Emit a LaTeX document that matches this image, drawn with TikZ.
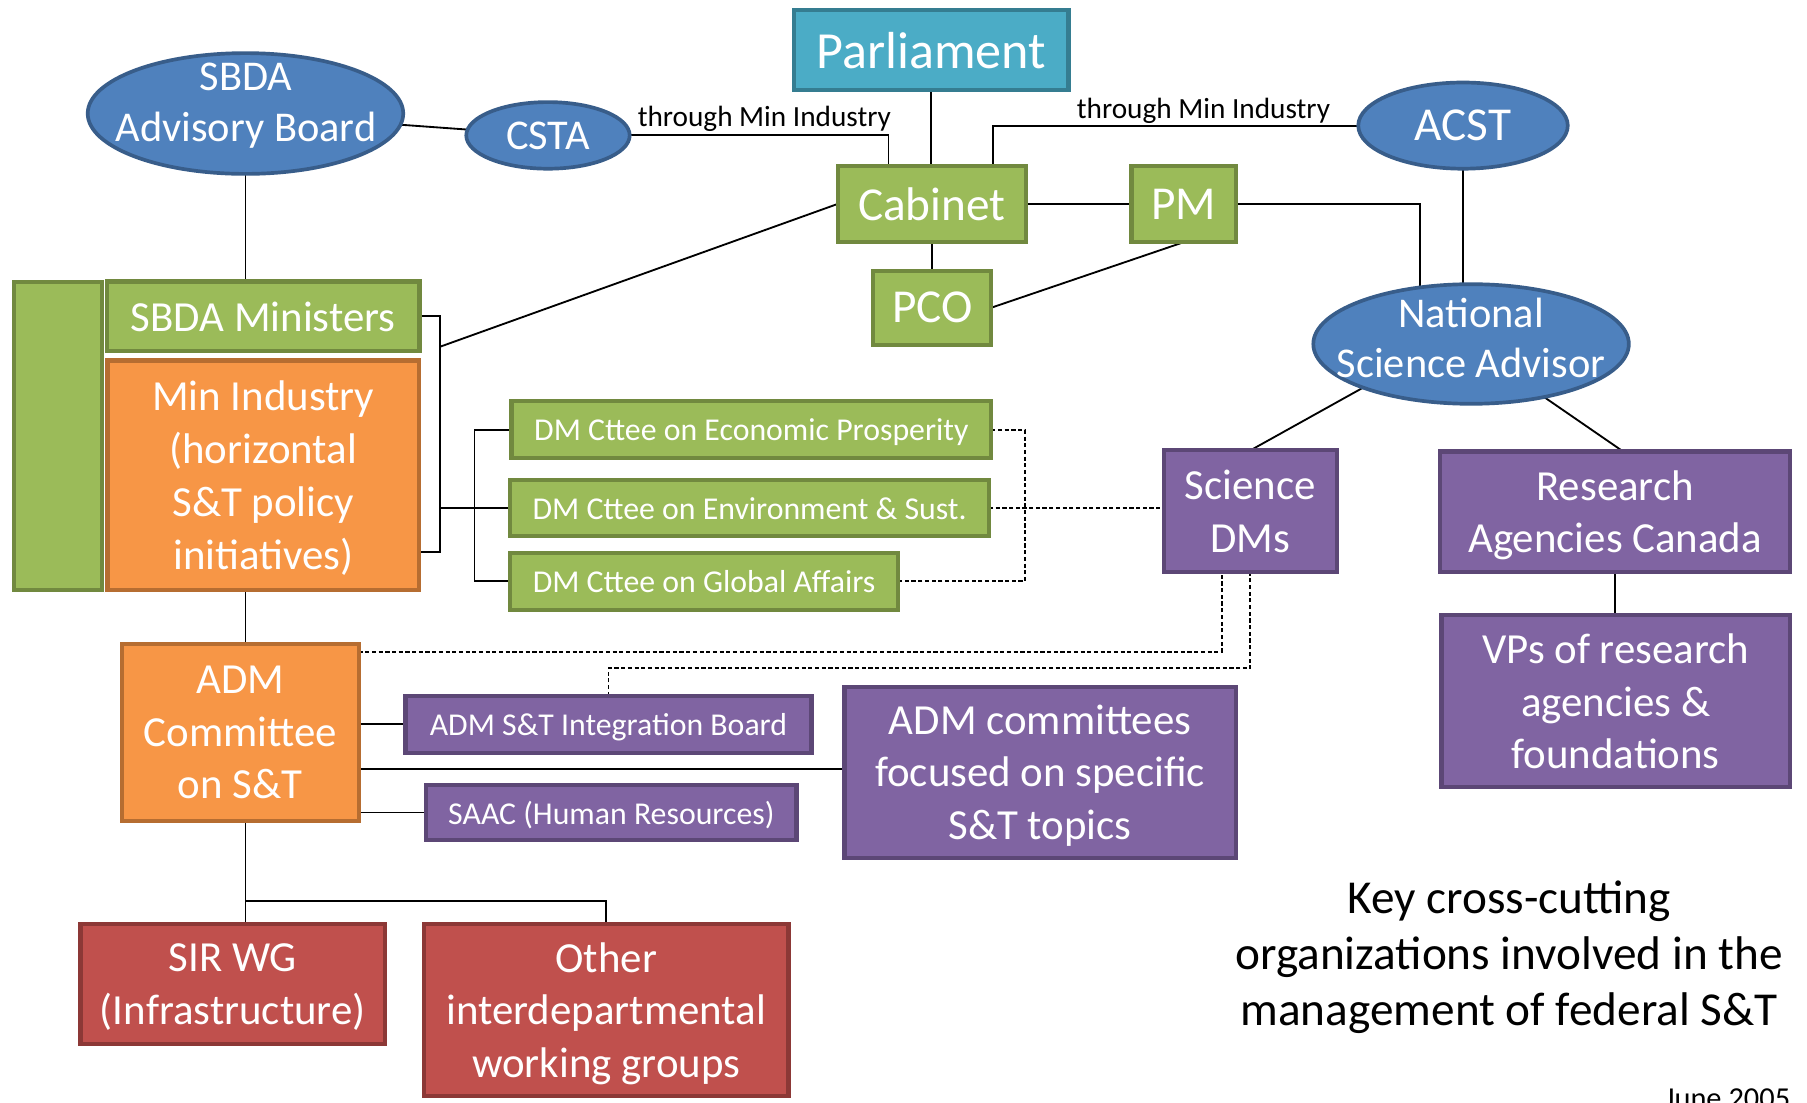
\documentclass[tikz,border=0pt]{standalone}
\usepackage{fontspec}
\setmainfont{Carlito}
\usetikzlibrary{shapes.geometric,calc}
\definecolor{grn}{HTML}{9BBB59}
\definecolor{grnd}{HTML}{71893F}
\definecolor{org}{HTML}{F79646}
\definecolor{orgd}{HTML}{B66D31}
\definecolor{pur}{HTML}{8064A2}
\definecolor{purd}{HTML}{5C4776}
\definecolor{rd}{HTML}{C0504D}
\definecolor{rdd}{HTML}{8C3836}
\definecolor{blu}{HTML}{4F81BD}
\definecolor{blud}{HTML}{385D8A}
\definecolor{tea}{HTML}{4BACC6}
\definecolor{tead}{HTML}{357D91}
\pgfdeclarelayer{bg}
\pgfdeclarelayer{paper}
\pgfsetlayers{paper,bg,main}
\tikzset{
  shp/.style={rectangle, inner sep=0pt, outer sep=0pt, line width=1.8pt, text=white, align=center},
  sz/.style 2 args={minimum width={#1*0.5pt-1.8pt}, minimum height={#2*0.5pt-1.8pt}},
  ez/.style 2 args={minimum width={#1*0.5pt-1.6pt}, minimum height={#2*0.5pt-1.6pt}},
  tbox/.style={shp, draw=tead, fill=tea},
  gbox/.style={shp, draw=grnd, fill=grn},
  obox/.style={shp, draw=orgd, fill=org},
  pbox/.style={shp, draw=purd, fill=pur},
  rbox/.style={shp, draw=rdd, fill=rd},
  ell/.style={ellipse, inner sep=0pt, outer sep=0pt, line width=1.6pt, draw=blud, fill=blu, text=white, align=center, fEl},
  etxt/.style={inner sep=0pt, text=white, align=center, fEl},
  fParl/.style={font=\fontsize{22.6}{27}\selectfont},
  fMid/.style={font=\fontsize{20.5}{24.5}\selectfont},
  fBig/.style={font=\fontsize{18.6}{22.7}\selectfont, text depth=0pt},
  fEl/.style={font=\fontsize{18.4}{22}\selectfont},
  fSm/.style={font=\fontsize{13.8}{16.5}\selectfont, text depth=0pt},
  lbl/.style={inner sep=0pt, font=\fontsize{12.7}{15}\selectfont},
  conn/.style={line width=0.8pt, black},
  dconn/.style={line width=0.85pt, black, dash pattern=on 1.8pt off 1.1pt},
}
\begin{document}
\begin{tikzpicture}[x=0.5pt, y=-0.5pt]
\useasboundingbox (0,0) rectangle (1568,957);
\begin{pgfonlayer}{paper}
\fill[white] (0,0) rectangle (1568,957);
\end{pgfonlayer}

% nodes
\node[tbox, sz={242}{73}, fParl] (parl) at (808,43.5) {Parliament};
\node[ell, ez={277}{108}] (sbda) at (213,98.5) {};
\node[etxt, anchor=base] (sbdaT) at (213.5,122.5) {SBDA\\Advisory Board};
\node[ell, ez={145}{61}] (csta) at (475.5,117.5) {CSTA};
\node[ell, ez={185}{78}, fMid] (acst) at (1269.5,109) {ACST};
\node[gbox, sz={167}{70}, fMid] (cab) at (808.5,177) {Cabinet};
\node[gbox, sz={94}{70}, fMid] (pm) at (1027,177) {PM};
\node[gbox, sz={106}{68}, fMid] (pco) at (809,267) {PCO};
\node[ell, ez={277}{107}] (nsa) at (1276.5,298.5) {};
\node[etxt, anchor=base] (nsaT) at (1276.5,328) {National\\Science Advisor};
\node[gbox, sz={80}{271}] (bar) at (50,378.5) {};
\node[gbox, sz={275}{64}, fBig] (sbdam) at (228.3,274.5) {SBDA Ministers};
\node[obox, sz={274}{203}, fBig, font=\fontsize{18.6}{23}\selectfont] (mini) at (228.5,412.5) {Min Industry\\(horizontal\\S\&T policy\\initiatives)};
\node[gbox, sz={420}{53}, fSm] (econ) at (652,373) {DM Cttee on Economic Prosperity};
\node[gbox, sz={419}{52}, fSm] (env) at (650.5,441) {DM Cttee on Environment \& Sust.};
\node[gbox, sz={340}{53}, fSm] (glob) at (611,504.5) {DM Cttee on Global Affairs};
\node[pbox, sz={154}{109}, fBig] (sdm) at (1085,443.5) {Science\\DMs};
\node[pbox, sz={307}{108}, fBig] (rac) at (1401.5,444) {Research\\Agencies Canada};
\node[pbox, sz={306}{153}, fBig] (vps) at (1402,608.5) {VPs of research\\agencies \&\\foundations};
\node[obox, sz={209}{157}, fBig] (adm) at (208.5,635.5) {ADM\\Committee\\on S\&T};
\node[pbox, sz={356}{53}, fSm] (asib) at (528,628.5) {ADM S\&T Integration Board};
\node[pbox, sz={343}{152}, fBig] (foc) at (902.5,670) {ADM committees\\focused on specific\\S\&T topics};
\node[pbox, sz={325}{52}, fSm] (saac) at (530.5,705) {SAAC (Human Resources)};
\node[rbox, sz={268}{108}, fBig] (sir) at (202,854) {SIR WG\\(Infrastructure)};
\node[rbox, sz={320}{153}, fBig] (oth) at (526,876.5) {Other\\interdepartmental\\working groups};

\node[lbl, anchor=base west] (thr1) at (553,110) {through Min Industry};
\node[lbl, anchor=base west] (thr2) at (934,102.5) {through Min Industry};
\node[anchor=base, inner sep=0pt, align=center, font=\fontsize{20.5}{24.3}\selectfont] (ttl) at (1309.5,890) {Key cross-cutting\\organizations involved in the\\management of federal S\&T};
\node[anchor=base, inner sep=0pt, font=\fontsize{13.2}{15}\selectfont] (date) at (1499,962) {June 2005};

% helper coordinates
\coordinate (bkx) at (381.5,301);
\coordinate (bky) at (381.5,441);
\coordinate (admj) at (213,782);
\coordinate (fy) at (0,667);
\coordinate (d1) at (0,565.5);
\coordinate (d2) at (0,580);

\begin{pgfonlayer}{bg}
\draw[conn] (sbda) -- (csta);
\draw[conn] (csta.east) -| ([xshift=-18.75pt]cab.north);
\draw[conn] (acst.west) -| ([xshift=26.75pt]cab.north);
\draw[conn] (parl.south) -- (parl.south |- cab.north);
\draw[conn] (cab.east) -- (pm.west);
\draw[conn] (cab.south) -- (cab.south |- pco.north);
\draw[conn] (pco.east) -- (pm.south);
\draw[conn] (pm.east) -| (nsa.132);
\draw[conn] (acst.south) -- (acst.south |- nsa.north);
\draw[conn] (nsa.202) -- (sdm.north);
\draw[conn] (nsa.324) -- ([xshift=3.5pt]rac.north);
\draw[conn] (rac.south) -- (rac.south |- vps.north);
\draw[conn] (sbda.south) -- (sbda.south |- sbdam.north);
\draw[conn] (sbdam.east) -| (bky |- sbdam.east) |- ([yshift=-33.25pt]mini.east);
\draw[conn] (bkx) -- (cab.west);
\draw[conn] (bky) -- (env.west);
\draw[conn] (econ.west) -- ++(-16pt,0) |- (glob.west);
\draw[dconn] (econ.east) -- ++(14.5pt,0) |- (glob.east);
\draw[dconn] (env.east) -- (sdm.west |- env.east);
\draw[conn] (mini.south -| admj) -- (adm.north -| admj);
\draw[conn] (adm.south -| admj) -- (sir.north -| admj);
\draw[conn] (admj) -| (oth.north);
\draw[conn] (adm.east |- asib.west) -- (asib.west);
\draw[conn] (adm.east |- fy) -- (foc.west |- fy);
\draw[conn] (adm.east |- saac.west) -- (saac.west);
\draw[dconn] (adm.east |- d1) -| ([xshift=-12.5pt]sdm.south);
\draw[dconn] (asib.north) -- (asib.north |- d2) -| (sdm.south);
\end{pgfonlayer}
\end{tikzpicture}
\end{document}
